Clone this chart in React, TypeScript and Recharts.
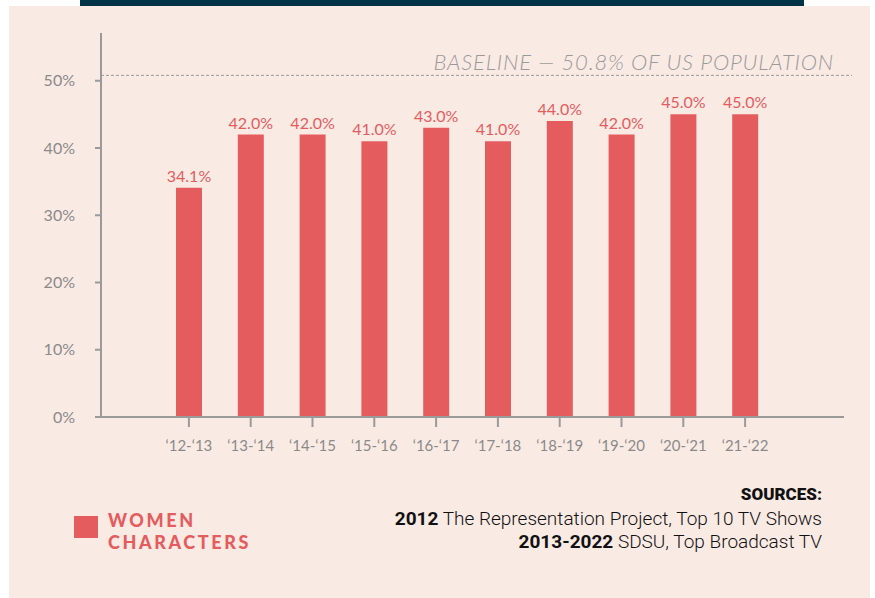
import { BarChart, Bar, XAxis, YAxis, ReferenceLine, LabelList } from 'recharts';

// Share of women characters per TV season
const seasons = ['‘12-‘13', '‘13-‘14', '‘14-‘15', '‘15-‘16', '‘16-‘17', '‘17-‘18', '‘18-‘19', '‘19-‘20', '‘20-‘21', '‘21-‘22'];
const womenShare = [34.1, 42.0, 42.0, 41.0, 43.0, 41.0, 44.0, 42.0, 45.0, 45.0];
const yTicks = [0, 10, 20, 30, 40, 50];
const baseline = 50.8;

const data = seasons.map((season, i) => ({ season, value: womenShare[i] }));

const RED = '#E55C5E';
const GRAY = '#9a9a9a';
const LABEL_GRAY = '#8a8a8a';

function BaselineShape(props: any) {
  const { x1, x2, y1 } = props;
  return (
    <g>
      <line x1={x1} x2={x2 + 8} y1={y1} y2={y1} stroke={GRAY} strokeWidth={1} strokeDasharray="3 2" />
      <text
        x={x2 - 10}
        y={y1 - 5}
        textAnchor="end"
        fill={GRAY}
        fontSize={22}
        letterSpacing={0.8}
        fontStyle="italic"
        fontWeight={300}
        fontFamily="Lato"
      >
        BASELINE — 50.8% OF US POPULATION
      </text>
    </g>
  );
}

export default function App() {
  return (
    <div style={{ position: 'absolute', left: 0, top: 0, width: 875, height: 598, background: '#fff', overflow: 'hidden' }}>
      <div style={{ position: 'absolute', left: 80, top: 0, width: 724, height: 6, background: '#003548' }} />
      <div style={{ position: 'absolute', left: 9, top: 6, width: 861, height: 592, background: '#FAEAE4' }} />

      <div style={{ position: 'absolute', left: 0, top: 0 }}>
        <BarChart width={875} height={598} data={data} margin={{ top: 33, right: 31, bottom: 151, left: 0 }}>
          <XAxis
            dataKey="season"
            height={30}
            padding={{ left: 57, right: 68 }}
            axisLine={{ stroke: GRAY, strokeWidth: 2 }}
            tickLine={{ stroke: GRAY, strokeWidth: 2 }}
            tickSize={10}
            tickMargin={13}
            interval={0}
            tick={{ fill: LABEL_GRAY, fontSize: 15, fontFamily: 'Lato' }}
          />
          <YAxis
            width={101}
            domain={[0, 57.1]}
            ticks={yTicks}
            tickFormatter={(v: number) => `${v}%`}
            axisLine={{ stroke: GRAY, strokeWidth: 2 }}
            tickLine={{ stroke: GRAY, strokeWidth: 2 }}
            tickSize={6}
            tickMargin={20}
            tick={{ fill: LABEL_GRAY, fontSize: 16, fontFamily: 'Lato' }}
          />
          <ReferenceLine y={baseline} shape={BaselineShape} />
          <Bar dataKey="value" fill={RED} barSize={26} isAnimationActive={false}>
            <LabelList
              dataKey="value"
              position="top"
              offset={6}
              formatter={(v: any) => `${Number(v).toFixed(1)}%`}
              fill={RED}
              fontSize={16}
              fontFamily="Lato"
            />
          </Bar>
        </BarChart>
      </div>

      {/* legend */}
      <div style={{ position: 'absolute', left: 74, top: 516, width: 24, height: 22, background: RED }} />
      <div
        style={{
          position: 'absolute',
          left: 108,
          top: 509,
          color: RED,
          fontFamily: 'Lato',
          fontWeight: 900,
          fontSize: 18,
          lineHeight: '22px',
          letterSpacing: 2.6,
        }}
      >
        <div>WOMEN</div>
        <div>CHARACTERS</div>
      </div>

      {/* sources */}
      <div
        style={{
          position: 'absolute',
          right: 53,
          top: 483,
          textAlign: 'right',
          fontFamily: 'Roboto',
          fontSize: 19,
          lineHeight: '23.5px',
          color: '#111',
        }}
      >
        <div style={{ fontWeight: 900, fontSize: 17 }}>SOURCES:</div>
        <div style={{ fontWeight: 300 }}>
          <b style={{ fontWeight: 700 }}>2012</b> The Representation Project, Top 10 TV Shows
        </div>
        <div style={{ fontWeight: 300 }}>
          <b style={{ fontWeight: 700 }}>2013-2022</b> SDSU, Top Broadcast TV
        </div>
      </div>
    </div>
  );
}
